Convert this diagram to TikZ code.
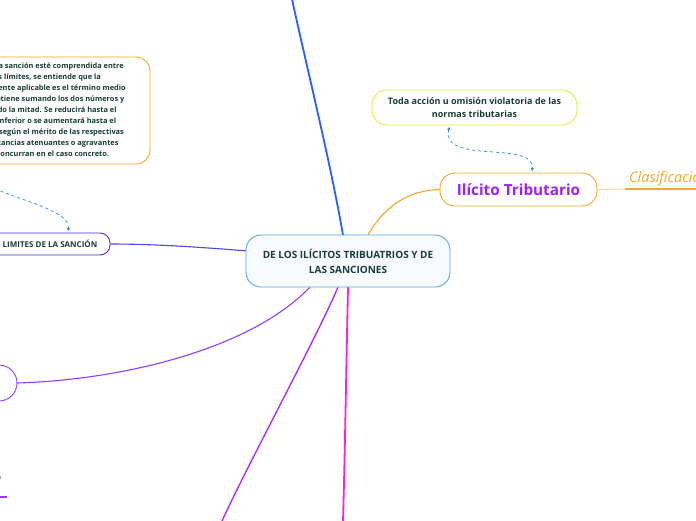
\documentclass[tikz,border=0pt]{standalone}
\usepackage{fontspec}
\setmainfont{Open Sans}
\usetikzlibrary{arrows.meta,calc}
\definecolor{cborder}{HTML}{5AA6DC}
\definecolor{cfill}{HTML}{F7FBFF}
\definecolor{dtext}{HTML}{1B3C38}
\definecolor{orng}{HTML}{F5A623}
\definecolor{ptext}{HTML}{A020F0}
\definecolor{ygreen}{HTML}{DDEF3A}
\definecolor{dblue}{HTML}{3A8EE6}
\definecolor{limcol}{HTML}{4B2EE8}
\definecolor{circcol}{HTML}{9040F8}
\definecolor{topblue}{HTML}{2860F8}
\definecolor{purp}{HTML}{B030F0}
\definecolor{magen}{HTML}{FF20D8}
\definecolor{lorng}{HTML}{F8D8A0}
\tikzset{
  box/.style={draw, rounded corners=15pt, line width=0.9pt, align=center, text=dtext, font=\bfseries, inner sep=0pt},
  centernode/.style={box, draw=cborder, fill=cfill, minimum width=204pt, minimum height=52pt, font=\bfseries\fontsize{10}{15}\selectfont},
  ilnode/.style={box, draw=orng, fill=white, minimum width=157pt, minimum height=33pt, text=ptext, font=\bfseries\fontsize{15.3}{18}\selectfont},
  topnode/.style={box, draw=ygreen, fill=white, minimum width=205pt, minimum height=35pt, font=\bfseries\fontsize{9}{13}\selectfont},
  ulnode/.style={box, draw=orng, fill=white, rounded corners=14pt, minimum width=210pt, minimum height=107pt, font=\bfseries\fontsize{7.4}{11}\selectfont},
  limnode/.style={box, draw=limcol, fill=white, rounded corners=10pt, minimum width=120pt, minimum height=22pt, font=\bfseries\fontsize{8}{10}\selectfont},
  circnode/.style={draw=circcol, circle, line width=0.9pt, fill=white, minimum size=36pt, inner sep=0pt},
  dashlink/.style={draw=dblue, dashed, line width=0.8pt, {Latex[length=3.5pt,width=3.5pt]}-{Latex[length=3.5pt,width=3.5pt]}},
  link/.style={line width=1.1pt}
}
\begin{document}
\begin{tikzpicture}[x=1pt,y=-1pt]
\useasboundingbox (0,0) rectangle (696,520);
\clip (0,0) rectangle (696,520);
\fill[white] (0,0) rectangle (696,520);

% end coordinates
\coordinate (topend) at (292,-1);
\coordinate (purpend) at (222,521);
\coordinate (magend) at (343,521);
\coordinate (ulstart) at (-42,164);
\coordinate (clline) at (625,189);
\coordinate (clend) at (697,189);

% connectors (drawn first, nodes on top)
\draw[link, draw=topblue, line width=1.8pt] (343,235) .. controls (330,160) and (305,60) .. (topend);
\draw[link, draw=orng] (368,235) .. controls (385,205) and (410,190) .. (440,189.5);
\draw[link, draw=limcol!80!cborder] (110,244) .. controls (160,244) and (210,248) .. (248,251);
\draw[link, draw=circcol] (17,383) .. controls (120,380) and (250,350) .. (310,287);
\draw[link, draw=purp, line width=1.4pt] (338,287) .. controls (318,335) and (250,460) .. (purpend);
\draw[link, draw=magen, line width=1.8pt] (348,287) .. controls (346,380) and (345,450) .. (magend);

% nodes
\node[centernode] (c) at (348,261) {DE LOS ILÍCITOS TRIBUATRIOS Y DE\\LAS SANCIONES};
\node[ilnode] (il) at (518.5,189.5) {Ilícito Tributario};
\node[topnode] (tp) at (474.5,107.5) {Toda acción u omisión violatoria de las\\normas tributarias};
\node[ulnode] (ul) at (45,110.5) {Cuando la sanción esté comprendida entre\\dos límites, se entiende que la\\normalmente aplicable es el término medio\\que se obtiene sumando los dos números y\\tomando la mitad. Se reducirá hasta el\\límite inferior o se aumentará hasta el\\superior según el mérito de las respectivas\\circunstancias atenuantes o agravantes\\que concurran en el caso concreto.};
\node[limnode] (lim) at (50,244) {LIMITES DE LA SANCIÓN};
\node[circnode] (circ) at (-1,383) {};
\node[anchor=south west, inner sep=0pt, text=orng, font=\itshape\fontsize{14.5}{16}\selectfont] (cl) at (629,186) {Clasificación};

% Clasificación link and underline
\draw[draw=lorng, line width=1pt] (il.east) -- (clline);
\draw[draw=orng, line width=1.3pt] (clline) -- (clend);

% dashed links
\draw[dashlink] ($(tp.south)+(-25,1)$) .. controls (440,165) and (535,140) .. ($(il.north)+(13.5,-1)$);
\draw[dashlink] (ulstart) .. controls (-20,195) and (72,205) .. ($(lim.north)+(18,-1)$);

% bottom-left fragments
\fill[gray!70] (0,476) rectangle (1,479);
\draw[draw=circcol, line width=1.2pt] (0,497) -- (7,497);
\end{tikzpicture}
\end{document}
